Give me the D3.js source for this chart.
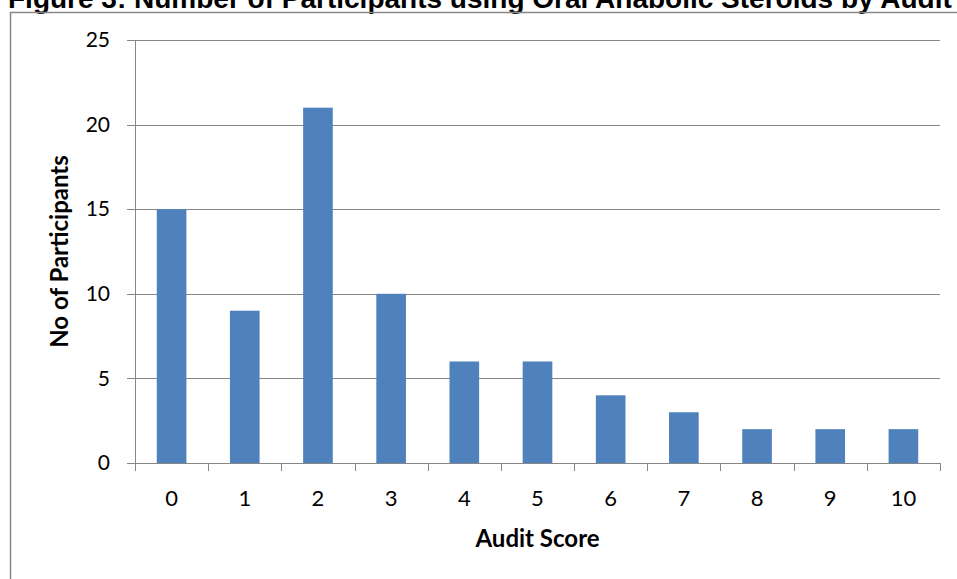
<!DOCTYPE html>
<html>
<head>
<meta charset="utf-8">
<script src="https://cdn.jsdelivr.net/npm/d3@7"></script>
<style>
  body { margin: 0; background: #fff; overflow: hidden; }
  svg { display: block; }
</style>
</head>
<body>
<div class="chart"></div>
<script>
// data
const scores = ['0', '1', '2', '3', '4', '5', '6', '7', '8', '9', '10']
const participants = [15, 9, 21, 10, 6, 6, 4, 3, 2, 2, 2]
const yTicks = [0, 5, 10, 15, 20, 25]

const W = 957, H = 579
const margin = ({top: 40, right: 17, bottom: 116, left: 135})
const width = W - margin.left - margin.right
const height = H - margin.top - margin.bottom

const svg = d3.select('.chart').append('svg')
    .attr('width', W)
    .attr('height', H)

// title, cut off at the top like the reference
svg.append('text')
    .attr('x', 8)
    .attr('y', 8)
    .attr('font-family', 'Liberation Sans, Arial, sans-serif')
    .attr('font-weight', 'bold')
    .attr('font-size', 28)
    .attr('fill', '#000')
    .text('Figure 3: Number of Participants using Oral Anabolic Steroids by Audit Score')

// chart frame
svg.append('rect')
    .attr('x', 10.5)
    .attr('y', 12.5)
    .attr('width', W + 20)
    .attr('height', H + 20)
    .attr('fill', 'none')
    .attr('stroke', '#868686')
    .attr('stroke-width', 1.5)

const g = svg.append('g')
    .attr('transform', `translate(${margin.left},${margin.top})`)

let x = d3.scaleBand()
    .domain(scores)
    .range([0, width])
    .paddingInner(0.595)
    .paddingOuter(0.2975)

let y = d3.scaleLinear()
    .domain([0, 25])
    .range([height, 0])

// gridlines
g.append('g')
    .selectAll('line')
    .data(yTicks)
    .join('line')
    .attr('x1', -8)
    .attr('x2', width)
    .attr('y1', d => Math.round(y(d)) + 0.5)
    .attr('y2', d => Math.round(y(d)) + 0.5)
    .attr('stroke', '#868686')
    .attr('stroke-width', 1)

// y axis
const yAxis = d3.axisLeft(y)
    .tickValues(yTicks)
    .tickSize(0)
    .tickPadding(25)

g.append('g')
    .attr('class', 'y-axis')
    .call(yAxis)
    .call(s => s.select('.domain').remove())
    .selectAll('text')
    .attr('font-family', 'Lato, sans-serif')
    .attr('font-size', 21)
    .attr('fill', '#000')

g.append('line')
    .attr('x1', 0.5).attr('x2', 0.5)
    .attr('y1', 0).attr('y2', height)
    .attr('stroke', '#868686')

// bars
g.selectAll('.bar')
    .data(participants)
    .join('rect')
    .attr('class', 'bar')
    .attr('x', (d, i) => x(scores[i]))
    .attr('y', d => y(d))
    .attr('width', x.bandwidth())
    .attr('height', d => height - y(d))
    .attr('fill', '#4F81BD')

// x axis with ticks between categories
const xBorders = d3.scaleLinear().domain([0, scores.length]).range([0, width])
const xg = g.append('g')
    .attr('transform', `translate(0,${height})`)

xg.append('line')
    .attr('x1', 0).attr('x2', width)
    .attr('y1', 0.5).attr('y2', 0.5)
    .attr('stroke', '#868686')

xg.selectAll('.tick-mark')
    .data(d3.range(scores.length + 1))
    .join('line')
    .attr('class', 'tick-mark')
    .attr('x1', d => Math.round(xBorders(d)) + 0.5)
    .attr('x2', d => Math.round(xBorders(d)) + 0.5)
    .attr('y1', 0)
    .attr('y2', 8)
    .attr('stroke', '#868686')

xg.selectAll('.tick-label')
    .data(scores)
    .join('text')
    .attr('class', 'tick-label')
    .attr('x', d => x(d) + x.bandwidth() / 2)
    .attr('y', 43)
    .attr('text-anchor', 'middle')
    .attr('font-family', 'Lato, sans-serif')
    .attr('font-size', 22)
    .attr('fill', '#000')
    .text(d => d)

// axis titles
svg.append('text')
    .attr('x', margin.left + width / 2)
    .attr('y', 547)
    .attr('text-anchor', 'middle')
    .attr('font-family', 'Lato, sans-serif')
    .attr('font-weight', 'bold')
    .attr('font-size', 24)
    .attr('fill', '#000')
    .text('Audit Score')

svg.append('text')
    .attr('transform', `translate(68,${margin.top + height / 2}) rotate(-90)`)
    .attr('text-anchor', 'middle')
    .attr('font-family', 'Lato, sans-serif')
    .attr('font-weight', 'bold')
    .attr('font-size', 24)
    .attr('fill', '#000')
    .text('No of Participants')
</script>
</body>
</html>
